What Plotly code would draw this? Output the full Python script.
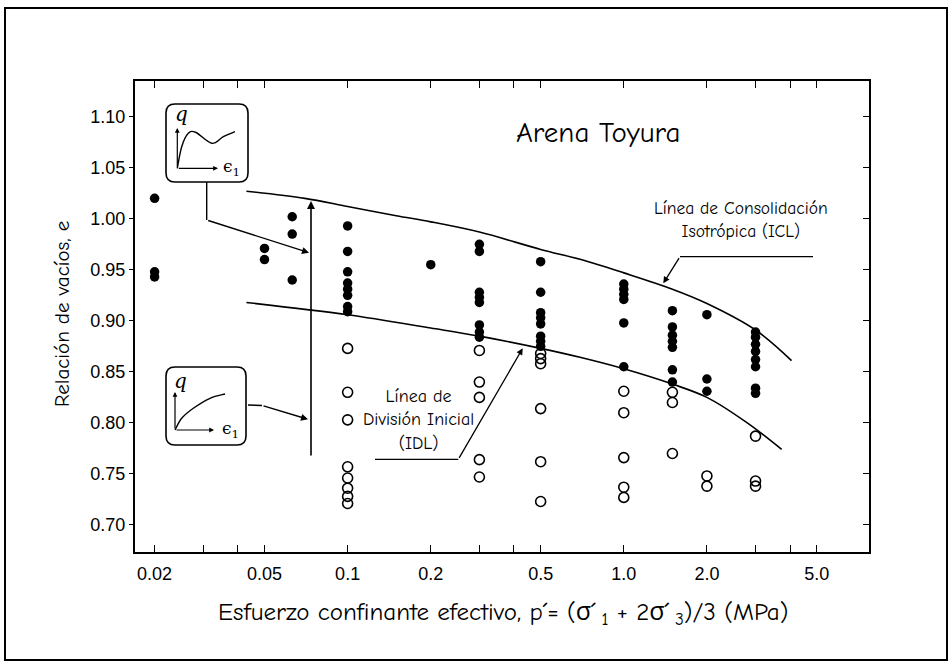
import plotly.graph_objects as go

# ---------------- data ----------------
filled_p = [0.02, 0.02, 0.02,
            0.05, 0.05,
            0.063, 0.063, 0.063,
            0.1, 0.1, 0.1, 0.1, 0.1, 0.1, 0.1, 0.1,
            0.2,
            0.3, 0.3, 0.3, 0.3, 0.3, 0.3, 0.3, 0.3,
            0.5, 0.5, 0.5, 0.5, 0.5, 0.5, 0.5, 0.5,
            1.0, 1.0, 1.0, 1.0, 1.0, 1.0,
            1.5, 1.5, 1.5, 1.5, 1.5, 1.5, 1.5,
            2.0, 2.0, 2.0,
            3.0, 3.0, 3.0, 3.0, 3.0, 3.0, 3.0, 3.0]
filled_e = [1.020, 0.948, 0.943,
            0.971, 0.960,
            1.002, 0.985, 0.940,
            0.993, 0.968, 0.948, 0.937, 0.931, 0.925, 0.914, 0.909,
            0.955,
            0.975, 0.968, 0.928, 0.923, 0.918, 0.896, 0.889, 0.884,
            0.958, 0.928, 0.908, 0.903, 0.897, 0.885, 0.880, 0.875,
            0.936, 0.931, 0.926, 0.921, 0.898, 0.855,
            0.910, 0.894, 0.886, 0.880, 0.874, 0.852, 0.840,
            0.906, 0.843, 0.831,
            0.889, 0.884, 0.877, 0.870, 0.862, 0.855, 0.834, 0.829]

open_p = [0.1, 0.1, 0.1, 0.1, 0.1, 0.1, 0.1, 0.1,
          0.3, 0.3, 0.3, 0.3, 0.3,
          0.5, 0.5, 0.5, 0.5, 0.5, 0.5,
          1.0, 1.0, 1.0, 1.0, 1.0,
          1.5, 1.5, 1.5,
          2.0, 2.0,
          3.0, 3.0, 3.0]
open_e = [0.873, 0.830, 0.803, 0.757, 0.746, 0.736, 0.728, 0.721,
          0.871, 0.840, 0.825, 0.764, 0.747,
          0.868, 0.863, 0.858, 0.814, 0.762, 0.723,
          0.831, 0.810, 0.766, 0.737, 0.727,
          0.830, 0.820, 0.770,
          0.748, 0.738,
          0.787, 0.743, 0.738]

icl_p = [0.043, 0.07, 0.1, 0.15, 0.2, 0.3, 0.5, 0.7, 1.0, 1.5, 2.0, 3.0, 4.05]
icl_e = [1.027, 1.020, 1.012, 1.003, 0.997, 0.987, 0.970, 0.960, 0.947, 0.931, 0.917, 0.891, 0.861]

idl_p = [0.043, 0.1, 0.2, 0.3, 0.5, 0.7, 1.0, 1.5, 2.0, 2.8, 3.73]
idl_e = [0.918, 0.906, 0.893, 0.885, 0.873, 0.864, 0.853, 0.838, 0.825, 0.800, 0.774]

x_tickvals = [0.02, 0.03, 0.04, 0.05, 0.1, 0.2, 0.3, 0.4, 0.5, 1.0, 2.0, 3.0, 4.0, 5.0]
x_ticktext = ["0.02", "", "", "0.05", "0.1", "0.2", "", "", "0.5", "1.0", "2.0", "", "", "5.0"]
y_tickvals = [0.70, 0.75, 0.80, 0.85, 0.90, 0.95, 1.00, 1.05, 1.10]
y_ticktext = ["0.70", "0.75", "0.80", "0.85", "0.90", "0.95", "1.00", "1.05", "1.10"]

# ---------------- layout geometry (pixels) ----------------
W, H = 952, 664
L, R, T, B = 135, 869, 81, 552


def px(x):
    return (x - L) / (R - L)


def py(y):
    return (B - y) / (B - T)


def P(x, y):
    return f"{px(x):.5f},{py(y):.5f}"


def smooth_path(pts):
    s = "M " + P(*pts[0])
    for i in range(len(pts) - 1):
        p0 = pts[i - 1] if i > 0 else pts[i]
        p1 = pts[i]
        p2 = pts[i + 1]
        p3 = pts[i + 2] if i + 2 < len(pts) else pts[i + 1]
        c1 = (p1[0] + (p2[0] - p0[0]) / 6, p1[1] + (p2[1] - p0[1]) / 6)
        c2 = (p2[0] - (p3[0] - p1[0]) / 6, p2[1] - (p3[1] - p1[1]) / 6)
        s += f" C {P(*c1)} {P(*c2)} {P(*p2)}"
    return s


def rrect(x0, y0, x1, y1, r=8):
    return (f"M {P(x0 + r, y0)} L {P(x1 - r, y0)} Q {P(x1, y0)} {P(x1, y0 + r)} "
            f"L {P(x1, y1 - r)} Q {P(x1, y1)} {P(x1 - r, y1)} L {P(x0 + r, y1)} "
            f"Q {P(x0, y1)} {P(x0, y1 - r)} L {P(x0, y0 + r)} Q {P(x0, y0)} {P(x0 + r, y0)} Z")


def polyline(pts):
    return "M " + " L ".join(P(*p) for p in pts)


COMIC = "Comic Sans MS, Comic Neue, Open Sans, sans-serif"
NUM = "Liberation Sans, Arial, sans-serif"


def text(x, y, t, size, family=COMIC, **kw):
    d = dict(xref="paper", yref="paper", x=px(x), y=py(y), text=t, showarrow=False,
             xanchor="center", yanchor="middle", font=dict(family=family, size=size, color="black"))
    d.update(kw)
    return d


def arrow(hx, hy, tx, ty, width=1.4, size=1.0):
    return dict(xref="paper", yref="paper", x=px(hx), y=py(hy), ax=tx - hx, ay=ty - hy, text="",
                showarrow=True, arrowhead=2, arrowsize=size, arrowwidth=width, arrowcolor="black")


fig = go.Figure()

fig.add_trace(go.Scatter(x=icl_p, y=icl_e, mode="lines", line=dict(color="black", width=1.6, shape="spline"),
                         showlegend=False, hoverinfo="skip"))
fig.add_trace(go.Scatter(x=idl_p, y=idl_e, mode="lines", line=dict(color="black", width=1.6, shape="spline"),
                         showlegend=False, hoverinfo="skip"))
fig.add_trace(go.Scatter(x=filled_p, y=filled_e, mode="markers",
                         marker=dict(symbol="circle", size=9.5, color="black"), showlegend=False))
fig.add_trace(go.Scatter(x=open_p, y=open_e, mode="markers",
                         marker=dict(symbol="circle-open", size=10, color="black", line=dict(width=1.6)),
                         showlegend=False))
fig.add_trace(go.Scatter(x=[], y=[], yaxis="y2", showlegend=False))

shapes = []
annotations = []

# outer border
shapes.append(dict(type="rect", xref="paper", yref="paper", x0=px(5), x1=px(947), y0=py(660), y1=py(8),
                   line=dict(color="black", width=2), layer="above"))

# --- upper inset box ---
shapes.append(dict(type="path", xref="paper", yref="paper", path=rrect(166, 104, 248, 182, 9),
                   line=dict(color="black", width=1.6)))
shapes.append(dict(type="path", xref="paper", yref="paper",
                   path=smooth_path([(177.3, 168.3), (181.7, 146.7), (188.3, 133.3), (196, 132.5),
                                     (211.7, 143.3), (223.3, 136.7), (235, 131.7)]),
                   line=dict(color="black", width=1.4)))
annotations.append(arrow(177.3, 128, 177.3, 168.3, 1.2, 0.8))
annotations.append(arrow(218, 168.3, 177.3, 168.3, 1.2, 0.8))
annotations.append(text(181, 114, "<i>q</i>", 20, "DejaVu Serif"))
annotations.append(text(231, 167, "ϵ<sub>1</sub>", 17, "DejaVu Serif"))
shapes.append(dict(type="path", xref="paper", yref="paper", path=polyline([(206.7, 182), (206.7, 220)]),
                   line=dict(color="black", width=1.4)))
annotations.append(arrow(309, 252.7, 206.7, 220))

# --- lower inset box ---
shapes.append(dict(type="path", xref="paper", yref="paper", path=rrect(166, 367, 246, 445, 9),
                   line=dict(color="black", width=1.6)))
shapes.append(dict(type="path", xref="paper", yref="paper",
                   path=smooth_path([(175, 430), (181.7, 418.3), (193.3, 408.3), (210, 398.3), (225, 394)]),
                   line=dict(color="black", width=1.4)))
annotations.append(arrow(175, 392, 175, 430, 1.2, 0.8))
annotations.append(arrow(214, 430, 175, 430, 1.2, 0.8))
annotations.append(text(180, 381, "<i>q</i>", 20, "DejaVu Serif"))
annotations.append(text(230, 429, "ϵ<sub>1</sub>", 17, "DejaVu Serif"))
shapes.append(dict(type="path", xref="paper", yref="paper", path=polyline([(248, 405), (262, 405.5)]),
                   line=dict(color="black", width=1.4)))
annotations.append(arrow(308, 419.3, 262, 405.5))

# vertical line with arrow up to ICL
annotations.append(arrow(311, 201, 311, 457, 1.6))

# texts
annotations.append(text(598, 132, "Arena Toyura", 29))
annotations.append(text(741, 219.5, "Línea de Consolidación<br>Isotrópica (ICL)", 17.5, align="center"))
annotations.append(text(418, 420, "Línea de<br>División Inicial<br>(IDL)", 18, align="center"))
# ICL pointer
shapes.append(dict(type="path", xref="paper", yref="paper", path=polyline([(813, 256.7), (680, 256.7)]),
                   line=dict(color="black", width=1.3)))
annotations.append(arrow(663.3, 283.3, 680, 256.7, 1.3))
# IDL pointer
shapes.append(dict(type="path", xref="paper", yref="paper", path=polyline([(375, 459.3), (458.3, 459.3)]),
                   line=dict(color="black", width=1.3)))
annotations.append(arrow(522.7, 348.3, 458.3, 459.3, 1.3))

# axis titles
annotations.append(text(62, 314, "Relación de vacíos, e", 21, textangle=-90))
annotations.append(text(503, 613,
                        "Esfuerzo confinante efectivo, p´= (σ´<sub> 1</sub> + 2σ´<sub> 3</sub>)/3 (MPa)", 25))

fig.update_layout(
    width=W, height=H,
    margin=dict(l=L, r=W - R, t=T, b=H - B),
    paper_bgcolor="white", plot_bgcolor="white",
    showlegend=False,
    shapes=shapes, annotations=annotations,
    xaxis=dict(type="log", range=[-1.77, 0.888], tickvals=x_tickvals, ticktext=x_ticktext,
               ticks="inside", ticklen=7, tickwidth=1.3, tickcolor="black",
               showline=True, linecolor="black", linewidth=2, mirror="ticks",
               showgrid=False, zeroline=False, ticklabelstandoff=4,
               tickfont=dict(family=NUM, size=18, color="black")),
    yaxis=dict(range=[0.6735, 1.135], tickvals=y_tickvals, ticktext=y_ticktext,
               ticks="outside", ticklen=4, tickwidth=1.3, tickcolor="black",
               showline=True, linecolor="black", linewidth=2, mirror=True,
               showgrid=False, zeroline=False,
               tickfont=dict(family=NUM, size=18, color="black")),
    yaxis2=dict(range=[0.6735, 1.135], overlaying="y", side="right", tickvals=y_tickvals,
                showticklabels=False, ticks="inside", ticklen=6, tickwidth=1.3, tickcolor="black",
                showline=False, showgrid=False, zeroline=False),
)

fig.write_html("out.html")
